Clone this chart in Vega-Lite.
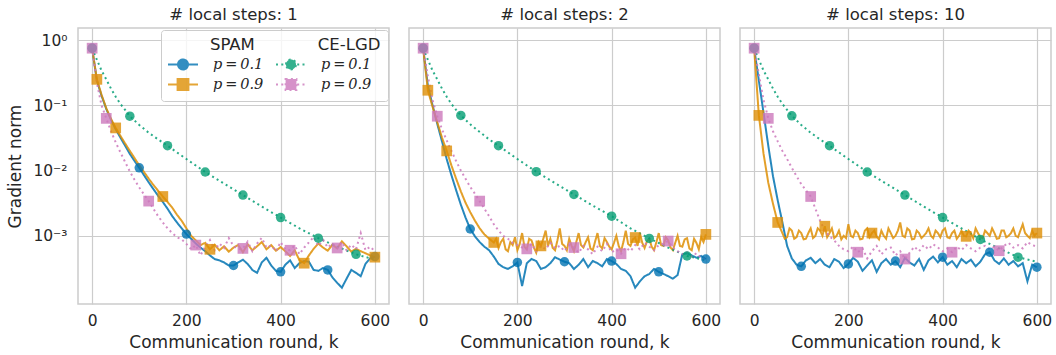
{
  "$schema": "https://vega.github.io/schema/vega-lite/v6.json",
  "background": "white",
  "padding": {"left": 6, "top": 6, "right": 0, "bottom": 0},
  "data": {"values": [
    {"s":1,"id":"S1","k":0,"v":0.75,"m":1},{"s":1,"id":"S1","k":10,"v":0.24},{"s":1,"id":"S1","k":20,"v":0.14},{"s":1,"id":"S1","k":30,"v":0.088},{"s":1,"id":"S1","k":40,"v":0.06},{"s":1,"id":"S1","k":50,"v":0.043},{"s":1,"id":"S1","k":60,"v":0.032},{"s":1,"id":"S1","k":70,"v":0.024},{"s":1,"id":"S1","k":80,"v":0.018},{"s":1,"id":"S1","k":90,"v":0.014},{"s":1,"id":"S1","k":100,"v":0.011,"m":1},{"s":1,"id":"S1","k":110,"v":0.0085},{"s":1,"id":"S1","k":120,"v":0.0066},{"s":1,"id":"S1","k":130,"v":0.0052},{"s":1,"id":"S1","k":140,"v":0.0041},{"s":1,"id":"S1","k":150,"v":0.0033},{"s":1,"id":"S1","k":160,"v":0.0026},{"s":1,"id":"S1","k":170,"v":0.002},{"s":1,"id":"S1","k":180,"v":0.0016},{"s":1,"id":"S1","k":190,"v":0.0013},{"s":1,"id":"S1","k":200,"v":0.00106,"m":1},{"s":1,"id":"S1","k":210,"v":0.0009},{"s":1,"id":"S1","k":220,"v":0.00076},{"s":1,"id":"S1","k":230,"v":0.00066},{"s":1,"id":"S1","k":240,"v":0.00058},{"s":1,"id":"S1","k":250,"v":0.0005},{"s":1,"id":"S1","k":260,"v":0.00044},{"s":1,"id":"S1","k":270,"v":0.00042},{"s":1,"id":"S1","k":280,"v":0.00039},{"s":1,"id":"S1","k":290,"v":0.00035},{"s":1,"id":"S1","k":300,"v":0.00035,"m":1},{"s":1,"id":"S1","k":310,"v":0.00039},{"s":1,"id":"S1","k":320,"v":0.00043},{"s":1,"id":"S1","k":330,"v":0.00037},{"s":1,"id":"S1","k":340,"v":0.0003},{"s":1,"id":"S1","k":350,"v":0.00027},{"s":1,"id":"S1","k":360,"v":0.00039},{"s":1,"id":"S1","k":370,"v":0.00046},{"s":1,"id":"S1","k":380,"v":0.00035},{"s":1,"id":"S1","k":390,"v":0.00029},{"s":1,"id":"S1","k":400,"v":0.00028,"m":1},{"s":1,"id":"S1","k":410,"v":0.00036},{"s":1,"id":"S1","k":420,"v":0.00042},{"s":1,"id":"S1","k":430,"v":0.00032},{"s":1,"id":"S1","k":440,"v":0.00038},{"s":1,"id":"S1","k":450,"v":0.00041},{"s":1,"id":"S1","k":460,"v":0.0004},{"s":1,"id":"S1","k":470,"v":0.0003},{"s":1,"id":"S1","k":480,"v":0.00029},{"s":1,"id":"S1","k":490,"v":0.00032},{"s":1,"id":"S1","k":500,"v":0.0003,"m":1},{"s":1,"id":"S1","k":510,"v":0.00023},{"s":1,"id":"S1","k":520,"v":0.00019},{"s":1,"id":"S1","k":530,"v":0.00016},{"s":1,"id":"S1","k":540,"v":0.00022},{"s":1,"id":"S1","k":550,"v":0.0003},{"s":1,"id":"S1","k":560,"v":0.00027},{"s":1,"id":"S1","k":570,"v":0.00024},{"s":1,"id":"S1","k":580,"v":0.00037},{"s":1,"id":"S1","k":590,"v":0.00045},{"s":1,"id":"S1","k":600,"v":0.00048,"m":1},

    {"s":1,"id":"S9","k":0,"v":0.75},{"s":1,"id":"S9","k":10,"v":0.25,"m":1},{"s":1,"id":"S9","k":20,"v":0.145},{"s":1,"id":"S9","k":30,"v":0.09},{"s":1,"id":"S9","k":40,"v":0.062},{"s":1,"id":"S9","k":50,"v":0.045,"m":1},{"s":1,"id":"S9","k":60,"v":0.034},{"s":1,"id":"S9","k":70,"v":0.026},{"s":1,"id":"S9","k":80,"v":0.02},{"s":1,"id":"S9","k":90,"v":0.0155},{"s":1,"id":"S9","k":100,"v":0.012},{"s":1,"id":"S9","k":110,"v":0.0095},{"s":1,"id":"S9","k":120,"v":0.0075},{"s":1,"id":"S9","k":130,"v":0.006},{"s":1,"id":"S9","k":140,"v":0.0049},{"s":1,"id":"S9","k":150,"v":0.004,"m":1},{"s":1,"id":"S9","k":160,"v":0.0033},{"s":1,"id":"S9","k":170,"v":0.0027},{"s":1,"id":"S9","k":180,"v":0.0021},{"s":1,"id":"S9","k":190,"v":0.0017},{"s":1,"id":"S9","k":200,"v":0.0013},{"s":1,"id":"S9","k":210,"v":0.001},{"s":1,"id":"S9","k":220,"v":0.00085},{"s":1,"id":"S9","k":230,"v":0.00072},{"s":1,"id":"S9","k":240,"v":0.00078},{"s":1,"id":"S9","k":250,"v":0.00062,"m":1},{"s":1,"id":"S9","k":260,"v":0.00073},{"s":1,"id":"S9","k":270,"v":0.0006},{"s":1,"id":"S9","k":280,"v":0.00069},{"s":1,"id":"S9","k":290,"v":0.00057},{"s":1,"id":"S9","k":300,"v":0.00066},{"s":1,"id":"S9","k":310,"v":0.00072},{"s":1,"id":"S9","k":320,"v":0.00056},{"s":1,"id":"S9","k":330,"v":0.00074},{"s":1,"id":"S9","k":340,"v":0.0006},{"s":1,"id":"S9","k":350,"v":0.00069},{"s":1,"id":"S9","k":360,"v":0.0008},{"s":1,"id":"S9","k":370,"v":0.00062},{"s":1,"id":"S9","k":380,"v":0.00072},{"s":1,"id":"S9","k":390,"v":0.00059},{"s":1,"id":"S9","k":400,"v":0.00067},{"s":1,"id":"S9","k":410,"v":0.00058},{"s":1,"id":"S9","k":420,"v":0.00049},{"s":1,"id":"S9","k":430,"v":0.0006},{"s":1,"id":"S9","k":440,"v":0.00042},{"s":1,"id":"S9","k":450,"v":0.00038,"m":1},{"s":1,"id":"S9","k":460,"v":0.0005},{"s":1,"id":"S9","k":470,"v":0.00063},{"s":1,"id":"S9","k":480,"v":0.00076},{"s":1,"id":"S9","k":490,"v":0.00066},{"s":1,"id":"S9","k":500,"v":0.00059},{"s":1,"id":"S9","k":510,"v":0.00073},{"s":1,"id":"S9","k":520,"v":0.00064},{"s":1,"id":"S9","k":530,"v":0.00082},{"s":1,"id":"S9","k":540,"v":0.00069},{"s":1,"id":"S9","k":550,"v":0.00057},{"s":1,"id":"S9","k":560,"v":0.00063},{"s":1,"id":"S9","k":570,"v":0.00058},{"s":1,"id":"S9","k":580,"v":0.00054},{"s":1,"id":"S9","k":590,"v":0.0005},{"s":1,"id":"S9","k":600,"v":0.00047,"m":1},

    {"s":1,"id":"C1","k":0,"v":0.75,"m":1},{"s":1,"id":"C1","k":10,"v":0.5},{"s":1,"id":"C1","k":20,"v":0.34},{"s":1,"id":"C1","k":30,"v":0.25},{"s":1,"id":"C1","k":40,"v":0.18},{"s":1,"id":"C1","k":50,"v":0.135},{"s":1,"id":"C1","k":60,"v":0.105},{"s":1,"id":"C1","k":70,"v":0.085},{"s":1,"id":"C1","k":80,"v":0.068,"m":1},{"s":1,"id":"C1","k":100,"v":0.05},{"s":1,"id":"C1","k":120,"v":0.038},{"s":1,"id":"C1","k":140,"v":0.03},{"s":1,"id":"C1","k":160,"v":0.024,"m":1},{"s":1,"id":"C1","k":200,"v":0.015},{"s":1,"id":"C1","k":240,"v":0.0095,"m":1},{"s":1,"id":"C1","k":280,"v":0.0063},{"s":1,"id":"C1","k":320,"v":0.0042,"m":1},{"s":1,"id":"C1","k":360,"v":0.0028},{"s":1,"id":"C1","k":400,"v":0.0019,"m":1},{"s":1,"id":"C1","k":440,"v":0.0013},{"s":1,"id":"C1","k":480,"v":0.00092,"m":1},{"s":1,"id":"C1","k":520,"v":0.00068},{"s":1,"id":"C1","k":560,"v":0.00052,"m":1},{"s":1,"id":"C1","k":600,"v":0.00043},

    {"s":1,"id":"C9","k":0,"v":0.75,"m":1},{"s":1,"id":"C9","k":10,"v":0.22},{"s":1,"id":"C9","k":20,"v":0.1},{"s":1,"id":"C9","k":30,"v":0.063,"m":1},{"s":1,"id":"C9","k":40,"v":0.04},{"s":1,"id":"C9","k":50,"v":0.027},{"s":1,"id":"C9","k":60,"v":0.019},{"s":1,"id":"C9","k":70,"v":0.0135},{"s":1,"id":"C9","k":80,"v":0.0097},{"s":1,"id":"C9","k":90,"v":0.0072},{"s":1,"id":"C9","k":100,"v":0.0055},{"s":1,"id":"C9","k":110,"v":0.0043},{"s":1,"id":"C9","k":120,"v":0.0034,"m":1},{"s":1,"id":"C9","k":130,"v":0.0026},{"s":1,"id":"C9","k":140,"v":0.002},{"s":1,"id":"C9","k":150,"v":0.0016},{"s":1,"id":"C9","k":160,"v":0.0013},{"s":1,"id":"C9","k":170,"v":0.0011},{"s":1,"id":"C9","k":180,"v":0.00095},{"s":1,"id":"C9","k":190,"v":0.00088},{"s":1,"id":"C9","k":200,"v":0.00075},{"s":1,"id":"C9","k":210,"v":0.00062},{"s":1,"id":"C9","k":220,"v":0.00072,"m":1},{"s":1,"id":"C9","k":230,"v":0.0005},{"s":1,"id":"C9","k":240,"v":0.00068},{"s":1,"id":"C9","k":250,"v":0.00086},{"s":1,"id":"C9","k":260,"v":0.0006},{"s":1,"id":"C9","k":270,"v":0.00076},{"s":1,"id":"C9","k":280,"v":0.00065},{"s":1,"id":"C9","k":290,"v":0.00092},{"s":1,"id":"C9","k":300,"v":0.0007},{"s":1,"id":"C9","k":310,"v":0.00062},{"s":1,"id":"C9","k":320,"v":0.00064,"m":1},{"s":1,"id":"C9","k":330,"v":0.00081},{"s":1,"id":"C9","k":340,"v":0.00058},{"s":1,"id":"C9","k":350,"v":0.00076},{"s":1,"id":"C9","k":360,"v":0.00093},{"s":1,"id":"C9","k":370,"v":0.00066},{"s":1,"id":"C9","k":380,"v":0.00071},{"s":1,"id":"C9","k":390,"v":0.00058},{"s":1,"id":"C9","k":400,"v":0.0008},{"s":1,"id":"C9","k":410,"v":0.00062},{"s":1,"id":"C9","k":420,"v":0.0006,"m":1},{"s":1,"id":"C9","k":430,"v":0.00071},{"s":1,"id":"C9","k":440,"v":0.00052},{"s":1,"id":"C9","k":450,"v":0.00066},{"s":1,"id":"C9","k":460,"v":0.00079},{"s":1,"id":"C9","k":470,"v":0.00096},{"s":1,"id":"C9","k":480,"v":0.0007},{"s":1,"id":"C9","k":490,"v":0.00086},{"s":1,"id":"C9","k":500,"v":0.00066},{"s":1,"id":"C9","k":510,"v":0.00076},{"s":1,"id":"C9","k":520,"v":0.00065,"m":1},{"s":1,"id":"C9","k":530,"v":0.0008},{"s":1,"id":"C9","k":540,"v":0.0006},{"s":1,"id":"C9","k":550,"v":0.00073},{"s":1,"id":"C9","k":560,"v":0.00062},{"s":1,"id":"C9","k":570,"v":0.0011},{"s":1,"id":"C9","k":580,"v":0.0006},{"s":1,"id":"C9","k":590,"v":0.00068},{"s":1,"id":"C9","k":600,"v":0.00058},

    {"s":2,"id":"S1","k":0,"v":0.75,"m":1},{"s":2,"id":"S1","k":10,"v":0.2},{"s":2,"id":"S1","k":20,"v":0.1},{"s":2,"id":"S1","k":30,"v":0.052},{"s":2,"id":"S1","k":40,"v":0.028},{"s":2,"id":"S1","k":50,"v":0.015},{"s":2,"id":"S1","k":60,"v":0.0085},{"s":2,"id":"S1","k":70,"v":0.005},{"s":2,"id":"S1","k":80,"v":0.003},{"s":2,"id":"S1","k":90,"v":0.0019},{"s":2,"id":"S1","k":100,"v":0.00127,"m":1},{"s":2,"id":"S1","k":110,"v":0.00098},{"s":2,"id":"S1","k":120,"v":0.0008},{"s":2,"id":"S1","k":130,"v":0.00068},{"s":2,"id":"S1","k":140,"v":0.0006},{"s":2,"id":"S1","k":150,"v":0.00048},{"s":2,"id":"S1","k":160,"v":0.00037},{"s":2,"id":"S1","k":170,"v":0.00033},{"s":2,"id":"S1","k":180,"v":0.00031},{"s":2,"id":"S1","k":190,"v":0.00034},{"s":2,"id":"S1","k":200,"v":0.00039,"m":1},{"s":2,"id":"S1","k":210,"v":0.00017},{"s":2,"id":"S1","k":220,"v":0.00038},{"s":2,"id":"S1","k":230,"v":0.00044},{"s":2,"id":"S1","k":240,"v":0.00041},{"s":2,"id":"S1","k":250,"v":0.00031},{"s":2,"id":"S1","k":260,"v":0.00033},{"s":2,"id":"S1","k":270,"v":0.00038},{"s":2,"id":"S1","k":280,"v":0.00047},{"s":2,"id":"S1","k":290,"v":0.00043},{"s":2,"id":"S1","k":300,"v":0.0004,"m":1},{"s":2,"id":"S1","k":310,"v":0.00038},{"s":2,"id":"S1","k":320,"v":0.00031},{"s":2,"id":"S1","k":330,"v":0.00036},{"s":2,"id":"S1","k":340,"v":0.00044},{"s":2,"id":"S1","k":350,"v":0.00033},{"s":2,"id":"S1","k":360,"v":0.00041},{"s":2,"id":"S1","k":370,"v":0.00038},{"s":2,"id":"S1","k":380,"v":0.00034},{"s":2,"id":"S1","k":390,"v":0.00044},{"s":2,"id":"S1","k":400,"v":0.00041,"m":1},{"s":2,"id":"S1","k":410,"v":0.00037},{"s":2,"id":"S1","k":420,"v":0.00031},{"s":2,"id":"S1","k":430,"v":0.00029},{"s":2,"id":"S1","k":440,"v":0.00024},{"s":2,"id":"S1","k":450,"v":0.00016},{"s":2,"id":"S1","k":460,"v":0.0002},{"s":2,"id":"S1","k":470,"v":0.00024},{"s":2,"id":"S1","k":480,"v":0.00026},{"s":2,"id":"S1","k":490,"v":0.00031},{"s":2,"id":"S1","k":500,"v":0.00028,"m":1},{"s":2,"id":"S1","k":510,"v":0.00026},{"s":2,"id":"S1","k":520,"v":0.00024},{"s":2,"id":"S1","k":530,"v":0.00022},{"s":2,"id":"S1","k":540,"v":0.00025},{"s":2,"id":"S1","k":550,"v":0.00052},{"s":2,"id":"S1","k":560,"v":0.00054},{"s":2,"id":"S1","k":570,"v":0.0005},{"s":2,"id":"S1","k":580,"v":0.00046},{"s":2,"id":"S1","k":590,"v":0.00049},{"s":2,"id":"S1","k":600,"v":0.00044,"m":1},

    {"s":2,"id":"S9","k":0,"v":0.75},{"s":2,"id":"S9","k":10,"v":0.17,"m":1},{"s":2,"id":"S9","k":20,"v":0.095},{"s":2,"id":"S9","k":30,"v":0.055},{"s":2,"id":"S9","k":40,"v":0.032},{"s":2,"id":"S9","k":50,"v":0.02,"m":1},{"s":2,"id":"S9","k":60,"v":0.012},{"s":2,"id":"S9","k":70,"v":0.0075},{"s":2,"id":"S9","k":80,"v":0.0048},{"s":2,"id":"S9","k":90,"v":0.0032},{"s":2,"id":"S9","k":100,"v":0.0023},{"s":2,"id":"S9","k":110,"v":0.0017},{"s":2,"id":"S9","k":120,"v":0.0013},{"s":2,"id":"S9","k":130,"v":0.00105},{"s":2,"id":"S9","k":140,"v":0.0009},{"s":2,"id":"S9","k":150,"v":0.00079,"m":1},{"s":2,"id":"S9","k":155,"v":0.0009},{"s":2,"id":"S9","k":160,"v":0.00065},{"s":2,"id":"S9","k":165,"v":0.0008},{"s":2,"id":"S9","k":170,"v":0.0009},{"s":2,"id":"S9","k":175,"v":0.00062},{"s":2,"id":"S9","k":180,"v":0.00058},{"s":2,"id":"S9","k":185,"v":0.0008},{"s":2,"id":"S9","k":190,"v":0.00072},{"s":2,"id":"S9","k":195,"v":0.00095},{"s":2,"id":"S9","k":200,"v":0.0006},{"s":2,"id":"S9","k":205,"v":0.00075},{"s":2,"id":"S9","k":210,"v":0.0011},{"s":2,"id":"S9","k":215,"v":0.00068},{"s":2,"id":"S9","k":220,"v":0.00062},{"s":2,"id":"S9","k":225,"v":0.0009},{"s":2,"id":"S9","k":230,"v":0.00085},{"s":2,"id":"S9","k":235,"v":0.00066},{"s":2,"id":"S9","k":240,"v":0.00055},{"s":2,"id":"S9","k":245,"v":0.0008},{"s":2,"id":"S9","k":250,"v":0.0007,"m":1},{"s":2,"id":"S9","k":255,"v":0.0009},{"s":2,"id":"S9","k":260,"v":0.0012},{"s":2,"id":"S9","k":265,"v":0.0007},{"s":2,"id":"S9","k":270,"v":0.0009},{"s":2,"id":"S9","k":275,"v":0.00065},{"s":2,"id":"S9","k":280,"v":0.0006},{"s":2,"id":"S9","k":285,"v":0.00085},{"s":2,"id":"S9","k":290,"v":0.0013},{"s":2,"id":"S9","k":295,"v":0.00075},{"s":2,"id":"S9","k":300,"v":0.0007},{"s":2,"id":"S9","k":305,"v":0.0006},{"s":2,"id":"S9","k":310,"v":0.0009},{"s":2,"id":"S9","k":315,"v":0.0007},{"s":2,"id":"S9","k":320,"v":0.00058},{"s":2,"id":"S9","k":325,"v":0.0008},{"s":2,"id":"S9","k":330,"v":0.0011},{"s":2,"id":"S9","k":335,"v":0.00072},{"s":2,"id":"S9","k":340,"v":0.00066},{"s":2,"id":"S9","k":345,"v":0.0008},{"s":2,"id":"S9","k":350,"v":0.00095},{"s":2,"id":"S9","k":355,"v":0.00064},{"s":2,"id":"S9","k":360,"v":0.0006},{"s":2,"id":"S9","k":365,"v":0.00082},{"s":2,"id":"S9","k":370,"v":0.0011},{"s":2,"id":"S9","k":375,"v":0.0007},{"s":2,"id":"S9","k":380,"v":0.00064},{"s":2,"id":"S9","k":385,"v":0.00092},{"s":2,"id":"S9","k":390,"v":0.0008},{"s":2,"id":"S9","k":395,"v":0.00068},{"s":2,"id":"S9","k":400,"v":0.00062},{"s":2,"id":"S9","k":405,"v":0.00078},{"s":2,"id":"S9","k":410,"v":0.001},{"s":2,"id":"S9","k":415,"v":0.0007},{"s":2,"id":"S9","k":420,"v":0.00058},{"s":2,"id":"S9","k":425,"v":0.0008},{"s":2,"id":"S9","k":430,"v":0.0012},{"s":2,"id":"S9","k":435,"v":0.00075},{"s":2,"id":"S9","k":440,"v":0.0007},{"s":2,"id":"S9","k":445,"v":0.00088},{"s":2,"id":"S9","k":450,"v":0.00094,"m":1},{"s":2,"id":"S9","k":455,"v":0.0007},{"s":2,"id":"S9","k":460,"v":0.0011},{"s":2,"id":"S9","k":465,"v":0.00078},{"s":2,"id":"S9","k":470,"v":0.00065},{"s":2,"id":"S9","k":475,"v":0.00082},{"s":2,"id":"S9","k":480,"v":0.0009},{"s":2,"id":"S9","k":485,"v":0.00068},{"s":2,"id":"S9","k":490,"v":0.0006},{"s":2,"id":"S9","k":495,"v":0.0008},{"s":2,"id":"S9","k":500,"v":0.0011},{"s":2,"id":"S9","k":505,"v":0.00072},{"s":2,"id":"S9","k":510,"v":0.0007},{"s":2,"id":"S9","k":515,"v":0.00095},{"s":2,"id":"S9","k":520,"v":0.00085},{"s":2,"id":"S9","k":525,"v":0.00066},{"s":2,"id":"S9","k":530,"v":0.0006},{"s":2,"id":"S9","k":535,"v":0.00078},{"s":2,"id":"S9","k":540,"v":0.001},{"s":2,"id":"S9","k":545,"v":0.0007},{"s":2,"id":"S9","k":550,"v":0.00068},{"s":2,"id":"S9","k":555,"v":0.00088},{"s":2,"id":"S9","k":560,"v":0.00092},{"s":2,"id":"S9","k":565,"v":0.00064},{"s":2,"id":"S9","k":570,"v":0.0006},{"s":2,"id":"S9","k":575,"v":0.0009},{"s":2,"id":"S9","k":580,"v":0.00078},{"s":2,"id":"S9","k":585,"v":0.00062},{"s":2,"id":"S9","k":590,"v":0.00095},{"s":2,"id":"S9","k":595,"v":0.0008},{"s":2,"id":"S9","k":600,"v":0.00105,"m":1},

    {"s":2,"id":"C1","k":0,"v":0.75,"m":1},{"s":2,"id":"C1","k":10,"v":0.5},{"s":2,"id":"C1","k":20,"v":0.34},{"s":2,"id":"C1","k":30,"v":0.25},{"s":2,"id":"C1","k":40,"v":0.18},{"s":2,"id":"C1","k":50,"v":0.135},{"s":2,"id":"C1","k":60,"v":0.105},{"s":2,"id":"C1","k":70,"v":0.085},{"s":2,"id":"C1","k":80,"v":0.07,"m":1},{"s":2,"id":"C1","k":100,"v":0.051},{"s":2,"id":"C1","k":120,"v":0.039},{"s":2,"id":"C1","k":140,"v":0.03},{"s":2,"id":"C1","k":160,"v":0.024,"m":1},{"s":2,"id":"C1","k":200,"v":0.015},{"s":2,"id":"C1","k":240,"v":0.0096,"m":1},{"s":2,"id":"C1","k":280,"v":0.0064},{"s":2,"id":"C1","k":320,"v":0.0043,"m":1},{"s":2,"id":"C1","k":360,"v":0.0029},{"s":2,"id":"C1","k":400,"v":0.002,"m":1},{"s":2,"id":"C1","k":440,"v":0.0013},{"s":2,"id":"C1","k":480,"v":0.00091,"m":1},{"s":2,"id":"C1","k":520,"v":0.00066},{"s":2,"id":"C1","k":560,"v":0.00049,"m":1},{"s":2,"id":"C1","k":600,"v":0.00042},

    {"s":2,"id":"C9","k":0,"v":0.75,"m":1},{"s":2,"id":"C9","k":10,"v":0.28},{"s":2,"id":"C9","k":20,"v":0.12},{"s":2,"id":"C9","k":30,"v":0.068,"m":1},{"s":2,"id":"C9","k":40,"v":0.043},{"s":2,"id":"C9","k":50,"v":0.029},{"s":2,"id":"C9","k":60,"v":0.02},{"s":2,"id":"C9","k":70,"v":0.014},{"s":2,"id":"C9","k":80,"v":0.01},{"s":2,"id":"C9","k":90,"v":0.0075},{"s":2,"id":"C9","k":100,"v":0.0056},{"s":2,"id":"C9","k":110,"v":0.0044},{"s":2,"id":"C9","k":120,"v":0.0034,"m":1},{"s":2,"id":"C9","k":130,"v":0.0026},{"s":2,"id":"C9","k":140,"v":0.002},{"s":2,"id":"C9","k":150,"v":0.0015},{"s":2,"id":"C9","k":160,"v":0.0012},{"s":2,"id":"C9","k":170,"v":0.001},{"s":2,"id":"C9","k":180,"v":0.0009},{"s":2,"id":"C9","k":190,"v":0.00078},{"s":2,"id":"C9","k":200,"v":0.00072},{"s":2,"id":"C9","k":210,"v":0.00066},{"s":2,"id":"C9","k":220,"v":0.00063,"m":1},{"s":2,"id":"C9","k":230,"v":0.00075},{"s":2,"id":"C9","k":240,"v":0.00058},{"s":2,"id":"C9","k":250,"v":0.0007},{"s":2,"id":"C9","k":260,"v":0.00062},{"s":2,"id":"C9","k":270,"v":0.00078},{"s":2,"id":"C9","k":280,"v":0.00064},{"s":2,"id":"C9","k":290,"v":0.0007},{"s":2,"id":"C9","k":300,"v":0.00058},{"s":2,"id":"C9","k":310,"v":0.00072},{"s":2,"id":"C9","k":320,"v":0.00066,"m":1},{"s":2,"id":"C9","k":330,"v":0.00055},{"s":2,"id":"C9","k":340,"v":0.0007},{"s":2,"id":"C9","k":350,"v":0.00062},{"s":2,"id":"C9","k":360,"v":0.00052},{"s":2,"id":"C9","k":370,"v":0.00068},{"s":2,"id":"C9","k":380,"v":0.00058},{"s":2,"id":"C9","k":390,"v":0.00075},{"s":2,"id":"C9","k":400,"v":0.00056},{"s":2,"id":"C9","k":410,"v":0.00062},{"s":2,"id":"C9","k":420,"v":0.00053,"m":1},{"s":2,"id":"C9","k":430,"v":0.00066},{"s":2,"id":"C9","k":440,"v":0.00058},{"s":2,"id":"C9","k":450,"v":0.00072},{"s":2,"id":"C9","k":460,"v":0.00062},{"s":2,"id":"C9","k":470,"v":0.00078},{"s":2,"id":"C9","k":480,"v":0.00068},{"s":2,"id":"C9","k":490,"v":0.0006},{"s":2,"id":"C9","k":500,"v":0.00072},{"s":2,"id":"C9","k":510,"v":0.00076},{"s":2,"id":"C9","k":520,"v":0.00083,"m":1},{"s":2,"id":"C9","k":530,"v":0.00066},{"s":2,"id":"C9","k":540,"v":0.00058},{"s":2,"id":"C9","k":550,"v":0.00052},{"s":2,"id":"C9","k":560,"v":0.00056},{"s":2,"id":"C9","k":570,"v":0.00048},{"s":2,"id":"C9","k":580,"v":0.00054},{"s":2,"id":"C9","k":590,"v":0.00046},{"s":2,"id":"C9","k":600,"v":0.00044},

    {"s":10,"id":"S1","k":0,"v":0.75,"m":1},{"s":10,"id":"S1","k":10,"v":0.24},{"s":10,"id":"S1","k":20,"v":0.076},{"s":10,"id":"S1","k":30,"v":0.024},{"s":10,"id":"S1","k":40,"v":0.0082},{"s":10,"id":"S1","k":50,"v":0.0035},{"s":10,"id":"S1","k":60,"v":0.0016},{"s":10,"id":"S1","k":70,"v":0.0007},{"s":10,"id":"S1","k":80,"v":0.00045},{"s":10,"id":"S1","k":90,"v":0.00036},{"s":10,"id":"S1","k":100,"v":0.00034,"m":1},{"s":10,"id":"S1","k":110,"v":0.00042},{"s":10,"id":"S1","k":120,"v":0.00046},{"s":10,"id":"S1","k":130,"v":0.00038},{"s":10,"id":"S1","k":140,"v":0.00044},{"s":10,"id":"S1","k":150,"v":0.00036},{"s":10,"id":"S1","k":160,"v":0.00033},{"s":10,"id":"S1","k":170,"v":0.00044},{"s":10,"id":"S1","k":180,"v":0.0004},{"s":10,"id":"S1","k":190,"v":0.00032},{"s":10,"id":"S1","k":200,"v":0.00037,"m":1},{"s":10,"id":"S1","k":210,"v":0.00046},{"s":10,"id":"S1","k":220,"v":0.0004},{"s":10,"id":"S1","k":230,"v":0.00029},{"s":10,"id":"S1","k":240,"v":0.00035},{"s":10,"id":"S1","k":250,"v":0.00042},{"s":10,"id":"S1","k":260,"v":0.00028},{"s":10,"id":"S1","k":270,"v":0.00038},{"s":10,"id":"S1","k":280,"v":0.00044},{"s":10,"id":"S1","k":290,"v":0.00036},{"s":10,"id":"S1","k":300,"v":0.00041,"m":1},{"s":10,"id":"S1","k":310,"v":0.00033},{"s":10,"id":"S1","k":320,"v":0.00046},{"s":10,"id":"S1","k":330,"v":0.00039},{"s":10,"id":"S1","k":340,"v":0.00035},{"s":10,"id":"S1","k":350,"v":0.00044},{"s":10,"id":"S1","k":360,"v":0.0003},{"s":10,"id":"S1","k":370,"v":0.00042},{"s":10,"id":"S1","k":380,"v":0.00048},{"s":10,"id":"S1","k":390,"v":0.00039},{"s":10,"id":"S1","k":400,"v":0.00047,"m":1},{"s":10,"id":"S1","k":410,"v":0.00036},{"s":10,"id":"S1","k":420,"v":0.00041},{"s":10,"id":"S1","k":430,"v":0.00033},{"s":10,"id":"S1","k":440,"v":0.00044},{"s":10,"id":"S1","k":450,"v":0.00038},{"s":10,"id":"S1","k":460,"v":0.00043},{"s":10,"id":"S1","k":470,"v":0.00034},{"s":10,"id":"S1","k":480,"v":0.0004},{"s":10,"id":"S1","k":490,"v":0.00052},{"s":10,"id":"S1","k":500,"v":0.00056,"m":1},{"s":10,"id":"S1","k":510,"v":0.00042},{"s":10,"id":"S1","k":520,"v":0.00037},{"s":10,"id":"S1","k":530,"v":0.00045},{"s":10,"id":"S1","k":540,"v":0.00036},{"s":10,"id":"S1","k":550,"v":0.00041},{"s":10,"id":"S1","k":560,"v":0.00034},{"s":10,"id":"S1","k":570,"v":0.00038},{"s":10,"id":"S1","k":580,"v":0.0002},{"s":10,"id":"S1","k":590,"v":0.00036},{"s":10,"id":"S1","k":600,"v":0.00033,"m":1},

    {"s":10,"id":"S9","k":0,"v":0.75},{"s":10,"id":"S9","k":10,"v":0.07,"m":1},{"s":10,"id":"S9","k":20,"v":0.018},{"s":10,"id":"S9","k":30,"v":0.0065},{"s":10,"id":"S9","k":40,"v":0.0031},{"s":10,"id":"S9","k":50,"v":0.0016,"m":1},{"s":10,"id":"S9","k":60,"v":0.0011},{"s":10,"id":"S9","k":65,"v":0.0009},{"s":10,"id":"S9","k":70,"v":0.00095},{"s":10,"id":"S9","k":75,"v":0.0013},{"s":10,"id":"S9","k":80,"v":0.0012},{"s":10,"id":"S9","k":85,"v":0.0009},{"s":10,"id":"S9","k":90,"v":0.00095},{"s":10,"id":"S9","k":95,"v":0.0012},{"s":10,"id":"S9","k":100,"v":0.0011},{"s":10,"id":"S9","k":105,"v":0.00088},{"s":10,"id":"S9","k":110,"v":0.0009},{"s":10,"id":"S9","k":115,"v":0.0011},{"s":10,"id":"S9","k":120,"v":0.0013},{"s":10,"id":"S9","k":125,"v":0.00092},{"s":10,"id":"S9","k":130,"v":0.001},{"s":10,"id":"S9","k":135,"v":0.0013},{"s":10,"id":"S9","k":140,"v":0.0012},{"s":10,"id":"S9","k":145,"v":0.001},{"s":10,"id":"S9","k":150,"v":0.0014,"m":1},{"s":10,"id":"S9","k":155,"v":0.00095},{"s":10,"id":"S9","k":160,"v":0.0011},{"s":10,"id":"S9","k":165,"v":0.0013},{"s":10,"id":"S9","k":170,"v":0.00092},{"s":10,"id":"S9","k":175,"v":0.001},{"s":10,"id":"S9","k":180,"v":0.0012},{"s":10,"id":"S9","k":185,"v":0.00088},{"s":10,"id":"S9","k":190,"v":0.001},{"s":10,"id":"S9","k":195,"v":0.00092},{"s":10,"id":"S9","k":200,"v":0.0015},{"s":10,"id":"S9","k":205,"v":0.001},{"s":10,"id":"S9","k":210,"v":0.00095},{"s":10,"id":"S9","k":215,"v":0.0012},{"s":10,"id":"S9","k":220,"v":0.0011},{"s":10,"id":"S9","k":225,"v":0.00088},{"s":10,"id":"S9","k":230,"v":0.0009},{"s":10,"id":"S9","k":235,"v":0.0012},{"s":10,"id":"S9","k":240,"v":0.0013},{"s":10,"id":"S9","k":245,"v":0.00095},{"s":10,"id":"S9","k":250,"v":0.0011,"m":1},{"s":10,"id":"S9","k":255,"v":0.0012},{"s":10,"id":"S9","k":260,"v":0.00098},{"s":10,"id":"S9","k":265,"v":0.00088},{"s":10,"id":"S9","k":270,"v":0.0012},{"s":10,"id":"S9","k":275,"v":0.001},{"s":10,"id":"S9","k":280,"v":0.0009},{"s":10,"id":"S9","k":285,"v":0.0013},{"s":10,"id":"S9","k":290,"v":0.0011},{"s":10,"id":"S9","k":295,"v":0.00092},{"s":10,"id":"S9","k":300,"v":0.001},{"s":10,"id":"S9","k":305,"v":0.0012},{"s":10,"id":"S9","k":310,"v":0.0016},{"s":10,"id":"S9","k":315,"v":0.001},{"s":10,"id":"S9","k":320,"v":0.00095},{"s":10,"id":"S9","k":325,"v":0.0013},{"s":10,"id":"S9","k":330,"v":0.0012},{"s":10,"id":"S9","k":335,"v":0.00088},{"s":10,"id":"S9","k":340,"v":0.0009},{"s":10,"id":"S9","k":345,"v":0.0012},{"s":10,"id":"S9","k":350,"v":0.0011},{"s":10,"id":"S9","k":355,"v":0.00092},{"s":10,"id":"S9","k":360,"v":0.001},{"s":10,"id":"S9","k":365,"v":0.0011},{"s":10,"id":"S9","k":370,"v":0.0013},{"s":10,"id":"S9","k":375,"v":0.001},{"s":10,"id":"S9","k":380,"v":0.00092},{"s":10,"id":"S9","k":385,"v":0.0012},{"s":10,"id":"S9","k":390,"v":0.0011},{"s":10,"id":"S9","k":395,"v":0.00095},{"s":10,"id":"S9","k":400,"v":0.0012},{"s":10,"id":"S9","k":405,"v":0.0013},{"s":10,"id":"S9","k":410,"v":0.00095},{"s":10,"id":"S9","k":415,"v":0.00092},{"s":10,"id":"S9","k":420,"v":0.0011},{"s":10,"id":"S9","k":425,"v":0.0012},{"s":10,"id":"S9","k":430,"v":0.0009},{"s":10,"id":"S9","k":435,"v":0.001},{"s":10,"id":"S9","k":440,"v":0.0012},{"s":10,"id":"S9","k":445,"v":0.001},{"s":10,"id":"S9","k":450,"v":0.00098,"m":1},{"s":10,"id":"S9","k":455,"v":0.0012},{"s":10,"id":"S9","k":460,"v":0.0011},{"s":10,"id":"S9","k":465,"v":0.00092},{"s":10,"id":"S9","k":470,"v":0.0013},{"s":10,"id":"S9","k":475,"v":0.0011},{"s":10,"id":"S9","k":480,"v":0.00095},{"s":10,"id":"S9","k":485,"v":0.00092},{"s":10,"id":"S9","k":490,"v":0.0012},{"s":10,"id":"S9","k":495,"v":0.0011},{"s":10,"id":"S9","k":500,"v":0.001},{"s":10,"id":"S9","k":505,"v":0.0013},{"s":10,"id":"S9","k":510,"v":0.0011},{"s":10,"id":"S9","k":515,"v":0.0009},{"s":10,"id":"S9","k":520,"v":0.00092},{"s":10,"id":"S9","k":525,"v":0.0012},{"s":10,"id":"S9","k":530,"v":0.0012},{"s":10,"id":"S9","k":535,"v":0.00095},{"s":10,"id":"S9","k":540,"v":0.001},{"s":10,"id":"S9","k":545,"v":0.0011},{"s":10,"id":"S9","k":550,"v":0.0013},{"s":10,"id":"S9","k":555,"v":0.001},{"s":10,"id":"S9","k":560,"v":0.00095},{"s":10,"id":"S9","k":565,"v":0.0012},{"s":10,"id":"S9","k":570,"v":0.0015},{"s":10,"id":"S9","k":575,"v":0.0011},{"s":10,"id":"S9","k":580,"v":0.001},{"s":10,"id":"S9","k":585,"v":0.00092},{"s":10,"id":"S9","k":590,"v":0.0012},{"s":10,"id":"S9","k":595,"v":0.001},{"s":10,"id":"S9","k":600,"v":0.0011,"m":1},

    {"s":10,"id":"C1","k":0,"v":0.75,"m":1},{"s":10,"id":"C1","k":10,"v":0.5},{"s":10,"id":"C1","k":20,"v":0.34},{"s":10,"id":"C1","k":30,"v":0.25},{"s":10,"id":"C1","k":40,"v":0.18},{"s":10,"id":"C1","k":50,"v":0.135},{"s":10,"id":"C1","k":60,"v":0.105},{"s":10,"id":"C1","k":70,"v":0.085},{"s":10,"id":"C1","k":80,"v":0.069,"m":1},{"s":10,"id":"C1","k":100,"v":0.05},{"s":10,"id":"C1","k":120,"v":0.038},{"s":10,"id":"C1","k":140,"v":0.03},{"s":10,"id":"C1","k":160,"v":0.024,"m":1},{"s":10,"id":"C1","k":200,"v":0.015},{"s":10,"id":"C1","k":240,"v":0.0095,"m":1},{"s":10,"id":"C1","k":280,"v":0.0063},{"s":10,"id":"C1","k":320,"v":0.0042,"m":1},{"s":10,"id":"C1","k":360,"v":0.0028},{"s":10,"id":"C1","k":400,"v":0.0019,"m":1},{"s":10,"id":"C1","k":440,"v":0.0013},{"s":10,"id":"C1","k":480,"v":0.00088,"m":1},{"s":10,"id":"C1","k":520,"v":0.00064},{"s":10,"id":"C1","k":560,"v":0.00047,"m":1},{"s":10,"id":"C1","k":600,"v":0.0004},

    {"s":10,"id":"C9","k":0,"v":0.75,"m":1},{"s":10,"id":"C9","k":10,"v":0.3},{"s":10,"id":"C9","k":20,"v":0.12},{"s":10,"id":"C9","k":30,"v":0.063,"m":1},{"s":10,"id":"C9","k":40,"v":0.04},{"s":10,"id":"C9","k":50,"v":0.028},{"s":10,"id":"C9","k":60,"v":0.02},{"s":10,"id":"C9","k":70,"v":0.015},{"s":10,"id":"C9","k":80,"v":0.011},{"s":10,"id":"C9","k":90,"v":0.0082},{"s":10,"id":"C9","k":100,"v":0.0062},{"s":10,"id":"C9","k":110,"v":0.005},{"s":10,"id":"C9","k":120,"v":0.004,"m":1},{"s":10,"id":"C9","k":130,"v":0.0026},{"s":10,"id":"C9","k":140,"v":0.0017},{"s":10,"id":"C9","k":150,"v":0.0012},{"s":10,"id":"C9","k":160,"v":0.00098},{"s":10,"id":"C9","k":170,"v":0.00085},{"s":10,"id":"C9","k":180,"v":0.0007},{"s":10,"id":"C9","k":190,"v":0.00062},{"s":10,"id":"C9","k":200,"v":0.00058},{"s":10,"id":"C9","k":210,"v":0.00068},{"s":10,"id":"C9","k":220,"v":0.00056,"m":1},{"s":10,"id":"C9","k":230,"v":0.00064},{"s":10,"id":"C9","k":240,"v":0.00045},{"s":10,"id":"C9","k":250,"v":0.00058},{"s":10,"id":"C9","k":260,"v":0.0007},{"s":10,"id":"C9","k":270,"v":0.00052},{"s":10,"id":"C9","k":280,"v":0.00062},{"s":10,"id":"C9","k":290,"v":0.00066},{"s":10,"id":"C9","k":300,"v":0.0005},{"s":10,"id":"C9","k":310,"v":0.00058},{"s":10,"id":"C9","k":320,"v":0.00044,"m":1},{"s":10,"id":"C9","k":330,"v":0.00055},{"s":10,"id":"C9","k":340,"v":0.00068},{"s":10,"id":"C9","k":350,"v":0.00058},{"s":10,"id":"C9","k":360,"v":0.00072},{"s":10,"id":"C9","k":370,"v":0.00062},{"s":10,"id":"C9","k":380,"v":0.00074},{"s":10,"id":"C9","k":390,"v":0.00066},{"s":10,"id":"C9","k":400,"v":0.00058},{"s":10,"id":"C9","k":410,"v":0.00064},{"s":10,"id":"C9","k":420,"v":0.00056,"m":1},{"s":10,"id":"C9","k":430,"v":0.00068},{"s":10,"id":"C9","k":440,"v":0.0006},{"s":10,"id":"C9","k":450,"v":0.00072},{"s":10,"id":"C9","k":460,"v":0.00064},{"s":10,"id":"C9","k":470,"v":0.00058},{"s":10,"id":"C9","k":480,"v":0.00066},{"s":10,"id":"C9","k":490,"v":0.0007},{"s":10,"id":"C9","k":500,"v":0.00062},{"s":10,"id":"C9","k":510,"v":0.00068},{"s":10,"id":"C9","k":520,"v":0.00059,"m":1},{"s":10,"id":"C9","k":530,"v":0.0007},{"s":10,"id":"C9","k":540,"v":0.00078},{"s":10,"id":"C9","k":550,"v":0.00066},{"s":10,"id":"C9","k":560,"v":0.00072},{"s":10,"id":"C9","k":570,"v":0.00064},{"s":10,"id":"C9","k":580,"v":0.0008},{"s":10,"id":"C9","k":590,"v":0.00072},{"s":10,"id":"C9","k":600,"v":0.00068}
  ]},
  "facet": {"column": {"field": "s", "type": "ordinal", "header": {"title": null, "labelExpr": "'# local steps: ' + datum.value", "labelFont": "DejaVu Sans", "labelFontSize": 16.5, "labelColor": "#262626", "labelPadding": 4}}},
  "spacing": 18,
  "spec": {
    "width": 311,
    "height": 276,
    "layer": [
      {
        "mark": {"type": "line", "strokeWidth": 2, "opacity": 0.85},
        "encoding": {
          "x": {"field": "k", "type": "quantitative", "scale": {"domain": [-30, 630], "nice": false, "zero": false}, "axis": {"values": [0, 200, 400, 600], "title": "Communication round, k", "labelPadding": 8, "titlePadding": 6}},
          "y": {"field": "v", "type": "quantitative", "scale": {"type": "log", "domain": [0.00009, 1.53], "nice": false}, "axis": {"values": [0.001, 0.01, 0.1, 1], "title": "Gradient norm", "labelExpr": "datum.value >= 0.99 ? '10⁰' : datum.value >= 0.099 ? '10⁻¹' : datum.value >= 0.0099 ? '10⁻²' : '10⁻³'", "labelPadding": 10, "titlePadding": 8}},
          "color": {"field": "id", "type": "nominal", "scale": {"domain": ["S1", "S9", "C1", "C9"], "range": ["#0173B2", "#DE8F05", "#029E73", "#CC78BC"]},
            "legend": {
              "orient": "none", "legendX": 83, "legendY": 2, "columns": 2,
              "title": "\u200b\u00a0\u00a0\u00a0\u00a0\u00a0\u00a0\u00a0\u00a0SPAM\u00a0\u00a0\u00a0\u00a0\u00a0\u00a0\u00a0\u00a0\u00a0\u00a0\u00a0\u00a0CE-LGD",
              "titleFont": "DejaVu Sans", "titleFontSize": 16.5, "titleFontWeight": "normal", "titleColor": "#262626", "titlePadding": 0, "titleLimit": 400,
              "labelExpr": "'p\u2009=\u20090.' + substring(datum.label, 1)",
              "labelFont": "DejaVu Serif", "labelFontStyle": "italic", "labelFontSize": 14.5, "labelColor": "#262626", "labelOffset": 19,
              "symbolSize": 400, "symbolStrokeWidth": 2, "symbolOpacity": 0.85, "symbolOffset": 4,
              "rowPadding": 0, "columnPadding": 8, "padding": 7,
              "fillColor": "rgba(255,255,255,0.8)", "strokeColor": "#cccccc", "cornerRadius": 3
            }},
          "strokeDash": {"field": "id", "type": "nominal", "scale": {"domain": ["S1", "S9", "C1", "C9"], "range": [[1, 0], [1, 0], [2, 3.3], [2, 3.3]]}}
        }
      },
      {
        "transform": [{"filter": "datum.m == 1 && (datum.id == 'S1' || datum.id == 'C1')"}],
        "mark": {"type": "point", "filled": true, "opacity": 0.8, "shape": "circle", "size": 90},
        "encoding": {
          "x": {"field": "k", "type": "quantitative"},
          "y": {"field": "v", "type": "quantitative"},
          "color": {"field": "id", "type": "nominal"}
        }
      },
      {
        "transform": [{"filter": "datum.m == 1 && (datum.id == 'S9' || datum.id == 'C9')"}],
        "mark": {"type": "point", "filled": true, "opacity": 0.8, "shape": "square", "size": 115},
        "encoding": {
          "x": {"field": "k", "type": "quantitative"},
          "y": {"field": "v", "type": "quantitative"},
          "color": {"field": "id", "type": "nominal"}
        }
      },
      {
        "transform": [{"filter": "false"}],
        "mark": {"type": "point", "filled": true},
        "encoding": {
          "x": {"field": "k", "type": "quantitative"},
          "y": {"field": "v", "type": "quantitative"},
          "color": {"field": "id", "type": "nominal"},
          "shape": {"field": "id", "type": "nominal", "scale": {"domain": ["S1", "S9", "C1", "C9"], "range": ["M-1.5,0H1.5M-0.5,0A0.5,0.5 0 1,1 0.5,0A0.5,0.5 0 1,1 -0.5,0Z", "M-1.5,0H1.5M-0.54,-0.54H0.54V0.54H-0.54Z", "M-1.5,0H1.5M-0.5,0A0.5,0.5 0 1,1 0.5,0A0.5,0.5 0 1,1 -0.5,0Z", "M-1.5,0H1.5M-0.54,-0.54H0.54V0.54H-0.54Z"]}}
        }
      }
    ]
  },
  "config": {
    "view": {"stroke": "#cccccc", "strokeWidth": 1.5},
    "axis": {"domain": false, "ticks": false, "gridColor": "#cccccc", "gridWidth": 1.2, "labelFont": "DejaVu Sans", "labelFontSize": 15.5, "labelColor": "#262626", "titleFont": "DejaVu Sans", "titleFontSize": 17, "titleFontWeight": "normal", "titleColor": "#262626"}
  }
}
